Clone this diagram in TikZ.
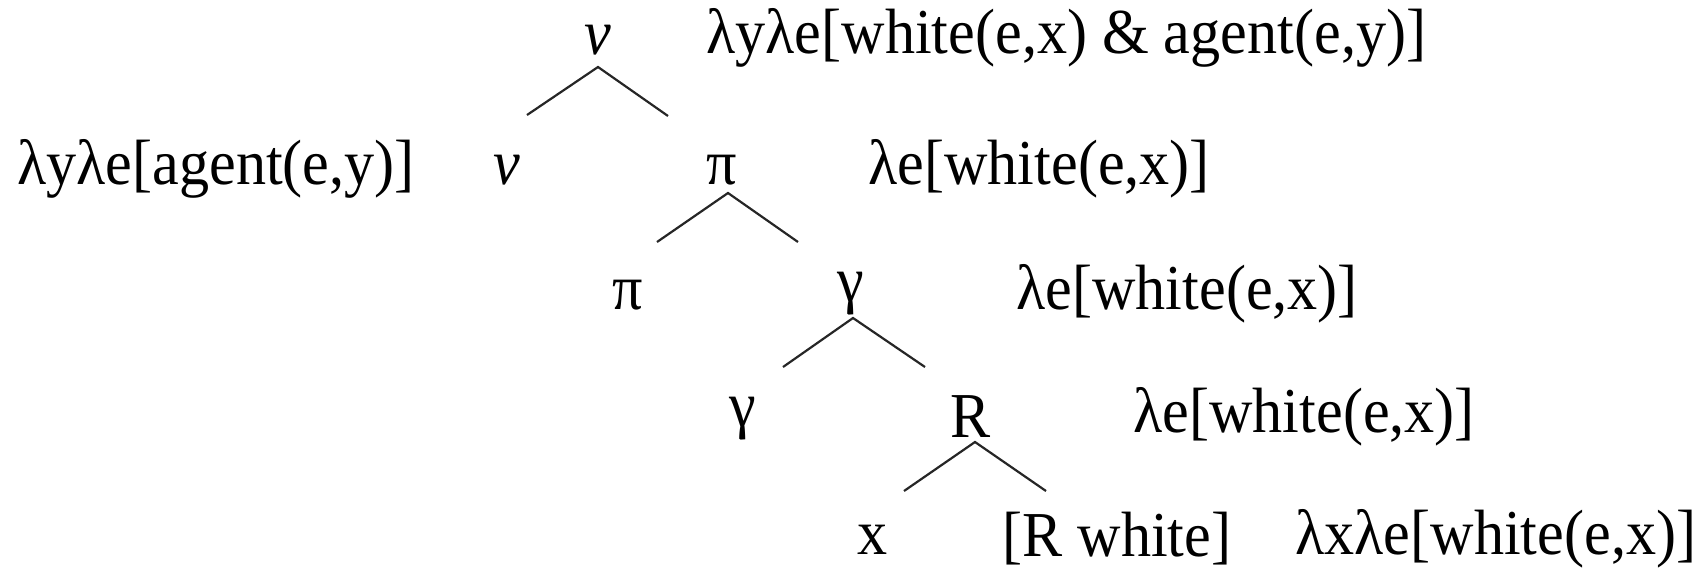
\documentclass[tikz,border=0pt]{standalone}
\usepackage{fontspec}
\setmainfont[FakeStretch=0.94]{Liberation Serif}
\usetikzlibrary{calc}
\begin{document}
\begin{tikzpicture}[x=0.5pt,y=-0.5pt,
  lbl/.style={inner sep=0pt, font=\fontsize{32}{38}\selectfont},
  sem/.style={lbl, anchor=west},
  edge/.style={draw=black!85, line width=1.1pt}]
\useasboundingbox (0,0) rectangle (1708,570);
% row 1
\node[lbl] (n1) at (598,40) {\textit{v}};
\node[sem] (s1) at (706,38) {λyλe[white(e,x) \& agent(e,y)]};
% row 2
\node[lbl] (n2a) at (507,170) {\textit{v}};
\node[lbl] (n2) at (722,170) {π};
\node[sem] (s2) at (868,169) {λe[white(e,x)]};
\node[sem] (s2l) at (17,169) {λyλe[agent(e,y)]};
% row 3
\node[lbl] (n3a) at (628,295) {π};
\node[lbl] (n3) at (851,294) {γ};
\node[sem] (s3) at (1016,294) {λe[white(e,x)]};
% row 4
\node[lbl] (n4a) at (743,419) {γ};
\node[lbl] (n4) at (971,417) {R};
\node[sem] (s4) at (1133,417) {λe[white(e,x)]};
% row 5
\node[lbl] (n5a) at (873,540) {x};
\node[lbl] (n5) at (1117,539) {[R white]};
\node[sem] (s5) at (1295,539) {λxλe[white(e,x)]};
% edges
\draw[edge] ($(n1)+(-71,75)$) -- ($(n1)+(0,27)$) -- ($(n1)+(70,76)$);
\draw[edge] ($(n2)+(-65,72)$) -- ($(n2)+(6,23)$) -- ($(n2)+(76,72)$);
\draw[edge] ($(n3)+(-68,73)$) -- ($(n3)+(2,24)$) -- ($(n3)+(74,73)$);
\draw[edge] ($(n4)+(-67,74)$) -- ($(n4)+(4,25)$) -- ($(n4)+(75,74)$);
\end{tikzpicture}
\end{document}
